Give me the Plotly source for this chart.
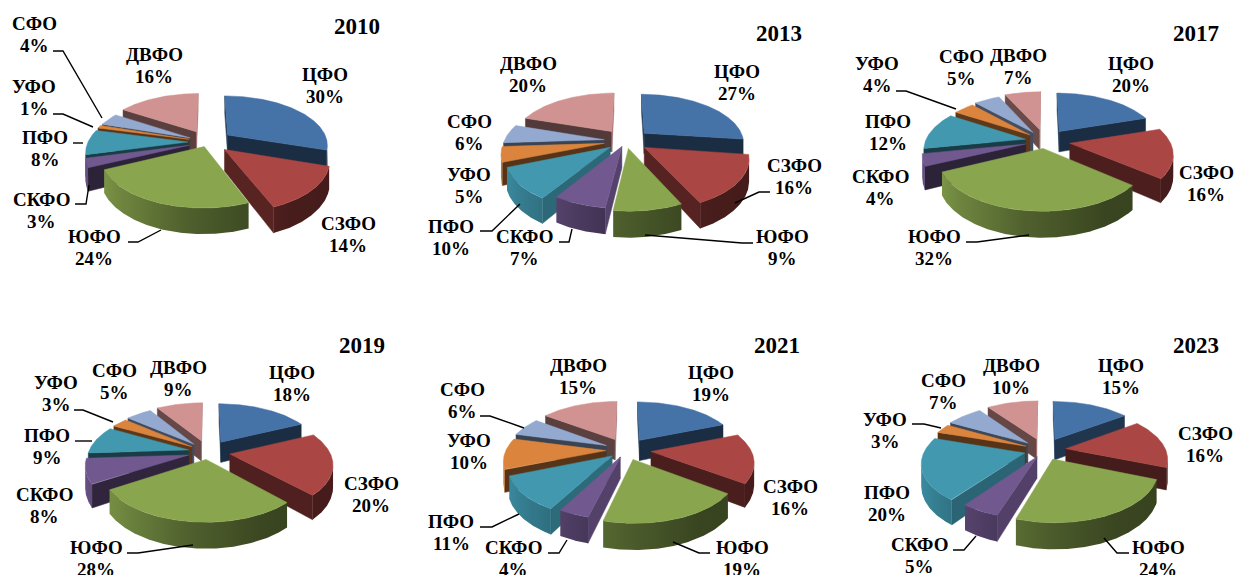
import numpy as np
import plotly.graph_objects as go

REGIONS = ['ЦФО', 'СЗФО', 'ЮФО', 'СКФО', 'ПФО', 'УФО', 'СФО', 'ДВФО']
YEARS = [2010, 2013, 2017, 2019, 2021, 2023]

SHARES_2010 = [30, 14, 24, 3, 8, 1, 4, 16]
SHARES_2013 = [27, 16, 9, 7, 10, 5, 6, 20]
SHARES_2017 = [20, 16, 32, 4, 12, 4, 5, 7]
SHARES_2019 = [18, 20, 28, 8, 9, 3, 5, 9]
SHARES_2021 = [19, 16, 19, 4, 11, 10, 6, 15]
SHARES_2023 = [15, 16, 24, 5, 20, 3, 7, 10]
SHARES = dict(zip(YEARS, [SHARES_2010, SHARES_2013, SHARES_2017, SHARES_2019, SHARES_2021, SHARES_2023]))

COLOURS = ['#4572A7', '#AA4643', '#89A54E', '#71588F', '#4198AF', '#DB843D', '#93A9CF', '#D19392']

# pie placement in page pixels: centre x, centre y
CENTRES = {2010: (208, 142), 2013: (626, 141), 2017: (1045, 141),
           2019: (208, 452), 2021: (626, 450), 2023: (1044, 450)}
RADIUS = 100
TILT = 48.5
PERSPECTIVE = 0.18
DEPTH = 21

# explosion of every slice, as part of the radius
PULLS = {
    2010: [.25, .22, .1, .2, .2, .2, .2, .25],
    2013: [.25, .22, .15, .12, .2, .22, .22, .25],
    2017: [.25, .25, .15, .2, .2, .2, .22, .25],
    2019: [.25, .22, .15, .2, .2, .2, .22, .25],
    2021: [.25, .25, .2, .15, .18, .2, .22, .25],
    2023: [.25, .22, .2, .15, .2, .2, .22, .25],
}

TITLE_POS = {2010: (357, 26), 2013: (779, 33), 2017: (1196, 33),
             2019: (362, 345), 2021: (777, 345), 2023: (1196, 345)}

# name line centre of each label, in REGIONS order
LABEL_POS = {
    2010: [(325, 74), (348, 223), (94, 236), (41, 199), (45, 137), (34, 86), (34, 23), (154, 54)],
    2013: [(737, 71), (794, 165), (782, 236), (524, 236), (451, 226), (469, 174), (469, 121), (528, 63)],
    2017: [(1131, 63), (1206, 172), (934, 236), (880, 176), (888, 121), (877, 63), (961, 56), (1018, 55)],
    2019: [(292, 372), (371, 483), (96, 547), (44, 494), (47, 435), (56, 382), (114, 370), (178, 367)],
    2021: [(711, 372), (790, 486), (742, 547), (513, 547), (451, 521), (469, 440), (462, 389), (578, 365)],
    2023: [(1121, 365), (1205, 433), (1158, 547), (919, 544), (887, 492), (885, 419), (943, 380), (1011, 365)],
}

LEADERS = {
    2010: [[(53, 51), (63, 51), (102, 118)], [(53, 114), (63, 114), (93, 127)], [(73, 143), (83, 143)],
           [(75, 204), (86, 204), (89, 185)], [(128, 242), (138, 242), (161, 230)]],
    2013: [[(770, 192), (759, 192), (735, 203)], [(753, 243), (742, 243), (645, 235)],
           [(480, 231), (492, 231), (520, 204)], [(559, 242), (569, 242), (572, 229)]],
    2017: [[(896, 91), (906, 91), (956, 109)], [(966, 242), (977, 242), (1029, 235)]],
    2019: [[(74, 410), (83, 410), (113, 422)], [(75, 441), (92, 441)], [(127, 553), (138, 553), (193, 545)]],
    2021: [[(480, 416), (490, 416), (524, 428)], [(480, 527), (492, 527), (519, 514)],
           [(548, 553), (559, 553), (567, 540)], [(710, 553), (699, 553), (673, 542)]],
    2023: [[(912, 424), (924, 424), (941, 428)], [(953, 550), (964, 550), (976, 536)],
           [(1129, 553), (1117, 553), (1104, 538)]],
}

FONT = 'Liberation Serif'
LABEL_SIZE = 19


def shade(colour, factor):
    r, g, b = [int(colour[i:i + 2], 16) for i in (1, 3, 5)]
    return f'rgb({int(r * factor)},{int(g * factor)},{int(b * factor)})'


def wall_shade(angle):
    return np.interp(angle, [90, 150, 187, 212, 245, 270], [.4, .42, .58, .75, .9, .9])


def face_shade(normal):
    return np.interp(normal % 360, [90, 125, 150, 200, 260], [.78, .68, .4, .4, .55])


def project(centre, x, v, z=0):
    '''Disc coordinates (v towards the viewer, in radii) to page pixels'''
    s = 1 / (1 - PERSPECTIVE * v)
    return centre[0] + RADIUS * x * s, centre[1] + (TILT * v + z) * s


def polygon(fig, xs, ys, colour, gradient=None):
    trace = dict(x=list(xs), y=list(ys), mode='lines', fill='toself', hoverinfo='skip', showlegend=False,
                 line=dict(color=colour, width=0.5))
    if gradient is None:
        trace['fillcolor'] = colour
    else:
        trace['fillgradient'] = dict(type='horizontal', colorscale=gradient)
        trace['line'] = dict(color='rgba(0,0,0,0)', width=0)
    fig.add_trace(go.Scatter(**trace))


def draw_slice(fig, centre, a1, a2, pull, colour):
    mid = np.radians((a1 + a2) / 2)
    ox, ov = pull * np.sin(mid), -pull * np.cos(mid)
    angles = np.linspace(a1, a2, max(int(a2 - a1) * 2, 4))
    rad = np.radians(angles)
    px = ox + np.sin(rad)
    pv = ov - np.cos(rad)
    tx, ty = project(centre, px, pv)
    bx, by = project(centre, px, pv, DEPTH)
    ax, ay = project(centre, ox, ov)
    ax2, ay2 = project(centre, ox, ov, DEPTH)

    # cut faces, hidden one left out
    for i, a, normal, sign in ((0, a1, a1 - 90, -1), (-1, a2, a2 + 90, 1)):
        qx = [ax, tx[i], bx[i], ax2]
        qy = [ay, ty[i], by[i], ay2]
        area = sum(qx[j] * qy[(j + 1) % 4] - qx[(j + 1) % 4] * qy[j] for j in range(4))
        if area * sign > 0:
            polygon(fig, qx + [ax], qy + [ay], shade(colour, face_shade(normal)))

    # outer wall: only the part of the rim facing the viewer
    front = np.diff(tx) < 0
    if front.any():
        idx = np.where(front)[0]
        i0, i1 = idx[0], idx[-1] + 1
        wx = tx[i0:i1 + 1]
        xmin, xmax = wx.min(), wx.max()
        span = max(xmax - xmin, 1e-6)
        sel = np.linspace(i0, i1, 7).astype(int)
        stops = sorted(((tx[k] - xmin) / span, shade(colour, wall_shade(angles[k]))) for k in sel)
        stops[0] = (0, stops[0][1])
        stops[-1] = (1, stops[-1][1])
        polygon(fig, list(wx) + list(bx[i0:i1 + 1][::-1]), list(ty[i0:i1 + 1]) + list(by[i0:i1 + 1][::-1]),
                shade(colour, wall_shade(angles[i0])), gradient=[list(s) for s in stops])

    polygon(fig, [ax] + list(tx) + [ax], [ay] + list(ty) + [ay], colour)


def draw_pie(fig, year):
    shares = np.array(SHARES[year], dtype=float)
    edges = np.concatenate([[0], np.cumsum(shares)]) / shares.sum() * 360
    mids = (edges[:-1] + edges[1:]) / 2
    # paint back to front
    for i in np.argsort(-np.cos(np.radians(mids))):
        draw_slice(fig, CENTRES[year], edges[i], edges[i + 1], PULLS[year][i], COLOURS[i])


def main():
    fig = go.Figure()
    annotations = []
    for year in YEARS:
        draw_pie(fig, year)
        for pts in LEADERS[year]:
            fig.add_trace(go.Scatter(x=[p[0] for p in pts], y=[p[1] for p in pts], mode='lines', hoverinfo='skip',
                                     showlegend=False, line=dict(color='black', width=1.4)))
        x, y = TITLE_POS[year]
        annotations.append(dict(x=x, y=y, text=f'<b>{year}</b>', font=dict(size=23, family=FONT, color='black')))
        for name, share, (x, y) in zip(REGIONS, SHARES[year], LABEL_POS[year]):
            font = dict(size=LABEL_SIZE, family=FONT, color='black')
            annotations.append(dict(x=x, y=y, text=f'<b>{name}</b>', font=font))
            annotations.append(dict(x=x, y=y + 22, text=f'<b>{share}%</b>', font=font))
    for a in annotations:
        a.update(xref='x', yref='y', showarrow=False, xanchor='center', yanchor='middle')

    fig.update_layout(width=1236, height=575, margin=dict(l=0, r=0, t=0, b=0), paper_bgcolor='white',
                      plot_bgcolor='white', showlegend=False, annotations=annotations,
                      xaxis=dict(range=[0, 1236], visible=False, fixedrange=True),
                      yaxis=dict(range=[575, 0], visible=False, fixedrange=True))
    fig.write_html('out.html', config={'displayModeBar': False},
                   post_script="document.body.style.margin='0';document.body.style.overflow='hidden';")


if __name__ == '__main__':
    main()
